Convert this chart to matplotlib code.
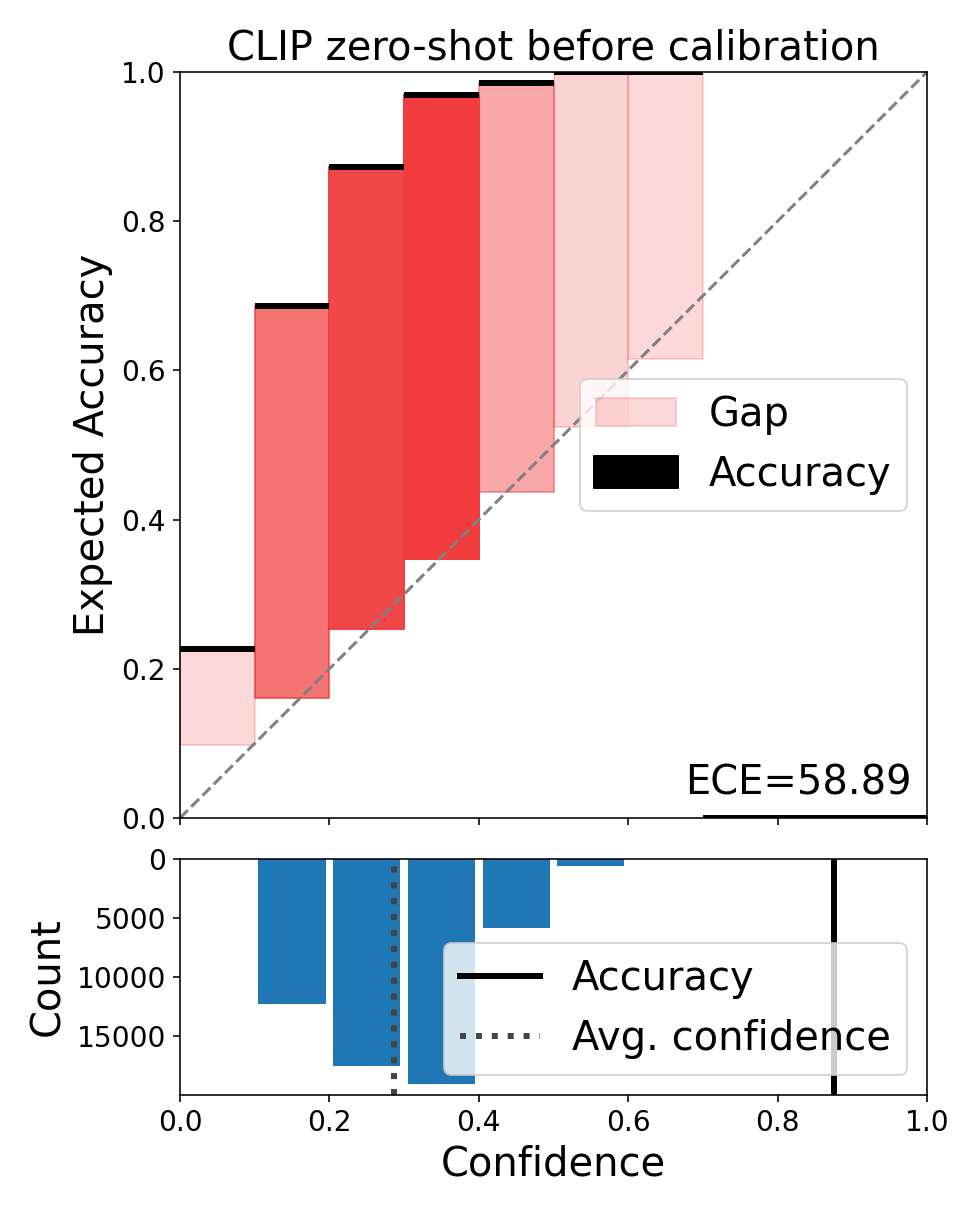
import numpy as np
import matplotlib.pyplot as plt

# reliability diagram data, 10 bins
bin_edges = np.linspace(0, 1, 11)
accuracies = np.array([0.2265, 0.6863, 0.8727, 0.9692, 0.9853, 1.0, 1.0, 0.0, 0.0, 0.0])
confidences = np.array([0.0979, 0.1613, 0.2530, 0.3476, 0.4370, 0.5246, 0.6157, 0.0, 0.0, 0.0])
counts = np.array([40, 12310, 17540, 19030, 5820, 570, 25, 0, 0, 0])
avg_accuracy = 0.8755
avg_confidence = 0.2865
ece = 58.89

bin_size = 1.0 / len(counts)
positions = bin_edges[:-1] + bin_size / 2.0

norm_counts = (counts - counts.min()) / (counts.max() - counts.min())
colors = np.zeros((len(counts), 4))
colors[:, 0] = 240 / 255.
colors[:, 1] = 60 / 255.
colors[:, 2] = 60 / 255.
colors[:, 3] = 0.2 + 0.8 * norm_counts

dpi = 144
fig = plt.figure(figsize=(977 / dpi, 1214 / dpi), dpi=dpi)
ax = fig.add_axes([180 / 977, 396 / 1214, 747 / 977, 746 / 1214])
ax2 = fig.add_axes([180 / 977, 119 / 1214, 747 / 977, 236 / 1214], sharex=ax)

gap_plt = ax.bar(positions, np.abs(accuracies - confidences),
                 bottom=np.minimum(accuracies, confidences), width=bin_size,
                 edgecolor=colors, color=colors, linewidth=1, label="Gap")
acc_plt = ax.bar(positions, 0, bottom=accuracies, width=bin_size,
                 edgecolor="black", color="black", alpha=1.0, linewidth=3,
                 label="Accuracy")
ax.plot([0, 1], [0, 1], linestyle="--", color="gray")
ax.text(0.98, 0.02, "ECE=%.2f" % ece, color="black", ha="right", va="bottom",
        transform=ax.transAxes, fontsize=20)
ax.set_xlim(0, 1)
ax.set_ylim(0, 1)
ax.set_title("CLIP zero-shot before calibration", fontsize=20)
ax.set_ylabel("Expected Accuracy", fontsize=20)
ax.tick_params(labelsize=14)
ax.tick_params(axis="x", labelbottom=False)
ax.legend(handles=[gap_plt, acc_plt], loc="center right", fontsize=20)

# histogram, drawn upside down
ax2.bar(positions, counts, width=bin_size * 0.9)
ax2.set_xlim(0, 1)
ax2.invert_yaxis()
ax2.set_yticks([0, 5000, 10000, 15000])
ax2.set_xlabel("Confidence", fontsize=20)
ax2.set_ylabel("Count", fontsize=20)
ax2.tick_params(labelsize=14)
l1 = ax2.axvline(x=avg_accuracy, ls="solid", lw=3, c="black", label="Accuracy")
l2 = ax2.axvline(x=avg_confidence, ls="dotted", lw=3, c="#444", label="Avg. confidence")
ax2.legend(handles=[l1, l2], loc="lower right", fontsize=20)

fig.savefig("out.png", dpi=dpi)
